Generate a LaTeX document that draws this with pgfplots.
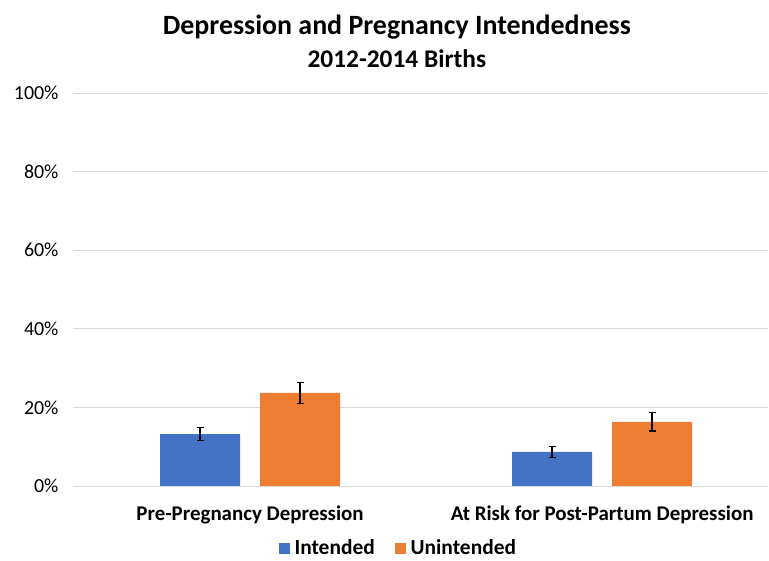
\documentclass[border=0pt]{standalone}
\usepackage{pgfplots}
\pgfplotsset{compat=1.18}
\usepackage{fontspec}
\setmainfont{Carlito}
\definecolor{barblue}{RGB}{68,114,196}
\definecolor{barorange}{RGB}{237,125,49}
\definecolor{gridgray}{RGB}{217,217,217}
\begin{document}
\begin{tikzpicture}
\begin{axis}[
    scale only axis,
    width=695bp, height=393bp,
    ybar, bar width=80bp,
    xmin=-0.503, xmax=1.471,
    ymin=0, ymax=100,
    xtick=data,
    xticklabels={Pre-Pregnancy Depression, At Risk for Post-Partum Depression},
    ytick={0,20,40,60,80,100},
    yticklabel={\pgfmathprintnumber{\tick}\%},
    /pgf/number format/assume math mode=true,
    ymajorgrids,
    grid style={gridgray, line width=0.8pt},
    axis x line*=bottom,
    axis y line*=left,
    y axis line style={draw=none},
    x axis line style={gridgray, line width=0.8pt, -},
    major tick length=0pt,
    tick style={draw=none},
    ticklabel style={font=\fontsize{20}{24}\selectfont},
    xticklabel style={font=\fontsize{21}{25}\selectfont\bfseries, yshift=-16bp},
    yticklabel style={xshift=-11bp},
    title={\fontsize{28}{32}\selectfont\bfseries Depression and Pregnancy Intendedness\\[9bp]\fontsize{25.5}{29}\selectfont\bfseries 2012-2014 Births},
    title style={align=center, at={(0.466,1)}, yshift=16bp},
    legend style={draw=none, at={(0.468,-0.158)}, anchor=center,
        legend columns=2, font=\fontsize{21.5}{25}\selectfont\bfseries,
        /tikz/every odd column/.append style={column sep=3bp},
        /tikz/every even column/.append style={column sep=18bp}},
    legend image code/.code={\fill[#1] (0bp,-5.5bp) rectangle (11bp,5.5bp);},
    error bars/error bar style={black, line width=1.4pt},
    error bars/error mark options={rotate=90, mark size=3.5bp, line width=1.2pt, black},
]
\addplot[fill=barblue, draw=none, bar shift=-50bp,
    error bars/.cd, y dir=both, y explicit]
    coordinates {(0,13.2) +- (0,1.6) (1,8.7) +- (0,1.4)};
\addplot[fill=barorange, draw=none, bar shift=50bp,
    error bars/.cd, y dir=both, y explicit]
    coordinates {(0,23.7) +- (0,2.7) (1,16.3) +- (0,2.3)};
\legend{Intended, Unintended}
\end{axis}
\path[use as bounding box] (-73bp,-70bp) rectangle (696bp,486bp);
\end{tikzpicture}
\end{document}
